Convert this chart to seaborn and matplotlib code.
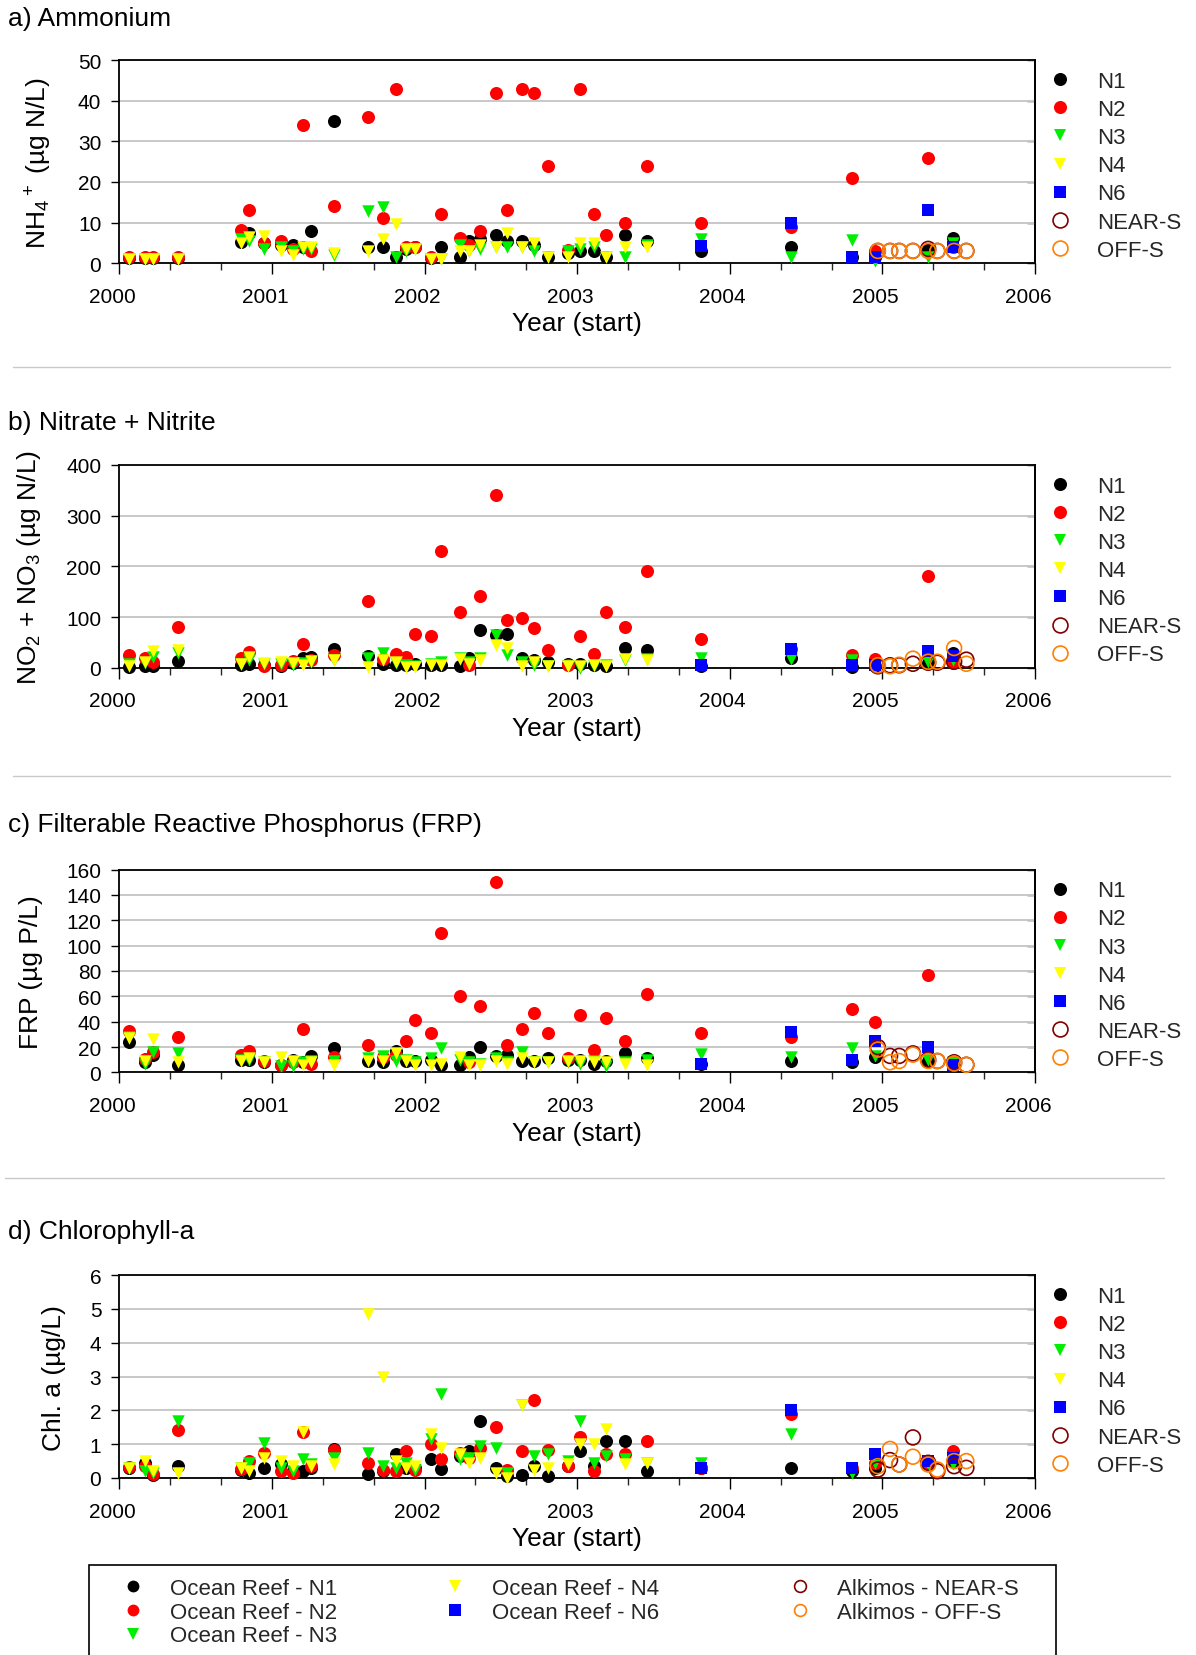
import numpy as np
import matplotlib
matplotlib.use("Agg")
import matplotlib.pyplot as plt
import matplotlib.transforms as mtransforms
from matplotlib.lines import Line2D
from matplotlib.patches import Rectangle
import seaborn as sns

sns.set_theme(style="white")
plt.rcParams["font.family"] = ["Liberation Sans", "DejaVu Sans"]
plt.rcParams["mathtext.default"] = "regular"

nan = np.nan

# ---------------------------------------------------------------- data
# Ocean Reef sampling dates (decimal year) for sites N1-N4
or_dates = [2000.065, 2000.165, 2000.22, 2000.385, 2000.795, 2000.85, 2000.95,
            2001.06, 2001.135, 2001.2, 2001.255, 2001.405, 2001.63, 2001.73,
            2001.81, 2001.88, 2001.94, 2002.04, 2002.11, 2002.23, 2002.29,
            2002.365, 2002.465, 2002.54, 2002.64, 2002.72, 2002.81, 2002.94,
            2003.02, 2003.11, 2003.19, 2003.31, 2003.46, 2003.81, 2004.40,
            2004.80, 2004.95, 2005.30, 2005.46]
# Site N6 sampling dates
n6_dates = [2003.81, 2004.40, 2004.80, 2004.95, 2005.30, 2005.46]
# Alkimos sampling dates
alk_dates = [2004.97, 2005.05, 2005.11, 2005.20, 2005.30, 2005.36, 2005.47, 2005.55]

# a) Ammonium (ug N/L)
nh4_n1 = [1.2, 1.2, 1.2, 1.2, 5.2, 7.4, 5, 4.5, 4.5, 4, 8, 35, 4, 4, 1.5, 3.5, 4, 1.2, 4,
          1.5, 5.4, 6, 7, 5.5, 5.5, 4.5, 1.5, 2.5, 3, 3, 1.5, 7, 5.5, 3, 4, 1.5, 1.5, 3.5, 6.2]
nh4_n2 = [1.5, 1.5, 1.5, 1.5, 8.1, 13, 5, 5.5, 3.5, 34, 3, 14, 36, 11, 43, 4, 4, 1.5, 12,
          6.3, 4.5, 8, 42, 13, 43, 42, 24, 3.2, 43, 12, 7, 10, 24, 10, 9, 21, 3, 26, 4]
nh4_n3 = [1, 1, 1, 1, 6, 5.5, 3.5, 4, 3, 3.5, 3.5, 2, 12.8, 13.8, 1.5, 3, 3.5, 1, 1, 4.5,
          3, 3.5, 4, 4, 4, 3, 1.5, 3, 3.5, 4, 1.5, 1.5, 4.5, 6, 1.5, 5.8, 0.5, 1.5, 5]
nh4_n4 = [1, 1, 1, 1, 5, 6.5, 6.8, 3, 2, 4, 4, 2.5, 3, 6, 9.7, 3.5, 3.5, 1, 1, 3, 3, 4.5,
          4, 7.5, 4, 5, 1.5, 1.5, 5, 5, 1.5, 4, 4, nan, nan, nan, nan, nan, nan]
nh4_n6 = [4.3, 10, 1.5, 1.5, 13, 4]
nh4_near = [3, 3, 3, 3, 3.5, 3, 3, 3]
nh4_off = [3, 3, 3, 3, 3, 3, 3, 3]

# b) Nitrate + Nitrite (ug N/L)
nox_n1 = [2, 3, 3, 14, 5, 8, 5, 3, 10, 20, 22, 37, 23, 8, 5, 5, 8, 5, 5, 3, 20, 74, 65,
          67, 20, 15, 12, 7, 7, 5, 3, 40, 36, 3, 20, 2, 3, 10, 30]
nox_n2 = [25, 20, 12, 80, 20, 32, 3, 5, 13, 46, 15, 25, 131, 18, 27, 22, 66, 63, 230,
          111, 5, 141, 340, 95, 98, 79, 35, 5, 63, 28, 111, 80, 190, 57, 38, 25, 17, 181, 10]
nox_n3 = [8, 10, 22, 30, 8, 15, 8, 8, 5, 10, 12, 15, 20, 30, 10, 5, 3, 8, 12, 20, 12, 20,
          65, 25, 12, 5, 3, 3, 0, 3, 5, 15, 18, 20, 18, 15, 1, 12, 15]
nox_n4 = [3, 12, 33, 35, 8, 22, 10, 12, 10, 5, 13, 15, 2, 15, 12, 2, 2, 5, 5, 18, 8, 15,
          45, 40, 3, 12, 3, 3, 3, 5, 3, 18, 15, nan, nan, nan, nan, nan, nan]
nox_n6 = [5, 38, 5, 5, 33, 24]
nox_near = [3, 5, 5, 8, 10, 10, 12, 16]
nox_off = [5, 3, 6, 18, 12, 12, 39, 8]

# c) Filterable Reactive Phosphorus (ug P/L)
frp_n1 = [24, 8, 14, 6, 10, 10, 8, 6, 10, 8, 13, 19, 9, 8, 17, 9, 9, 10, 6, 6, 12, 20,
          13, 14, 9, 9, 11, 10, 10, 7, 9, 15, 11, 7, 9, 8, 12, 9, 8]
frp_n2 = [32.6, 10.5, 15.8, 28, 14, 17, 9, 6, 8, 34, 7, 12, 22, 12, 14, 25, 41, 31, 110,
          60, 8, 52, 150, 22, 34, 47, 31, 11, 45, 18, 43, 25, 62, 31, 28, 50, 40, 77, 8]
frp_n3 = [28, 7, 16, 15, 10, 10, 8, 5, 5, 8, 9, 9, 11, 13, 9, 10, 8, 11, 19, 10, 8, 7,
          11, 8, 16, 8, 8, 8, 7, 9, 5, 8, 10, 14.5, 12, 19, 13, 10, 8]
frp_n4 = [27, 9, 26, 8, 9, 11, 8, 12, 9, 6, 8, 6, 9, 9, 15, 9, 6, 6, 7, 12, 6, 6, 9, 7,
          11, 8, 8, 9, 9, 8, 8, 7, 6, nan, nan, nan, nan, nan, nan]
frp_n6 = [7, 32, 10, 25, 20, 6]
frp_near = [20, 13, 13, 15, 10, 9, 8, 6]
frp_off = [18, 8, 9, 14, 9, 9, 7, 6]

# d) Chlorophyll-a (ug/L)
chl_n1 = [0.3, 0.45, 0.1, 0.35, 0.25, 0.15, 0.3, 0.4, 0.2, 0.2, 0.3, 0.85, 0.12, 0.2,
          0.7, 0.3, 0.3, 0.55, 0.28, 0.65, 0.8, 1.7, 0.3, 0.05, 0.1, 0.35, 0.05, 0.35,
          0.8, 0.35, 1.1, 1.1, 0.2, 0.3, 0.3, 0.2, 0.3, 0.4, 0.5]
chl_n2 = [0.32, 0.35, 0.12, 1.42, 0.28, 0.5, 0.75, 0.2, 0.15, 1.35, 0.35, 0.82, 0.45,
          0.25, 0.22, 0.8, 0.25, 1.02, 0.55, 0.75, 0.6, 0.9, 1.5, 0.25, 0.8, 2.32, 0.82,
          0.35, 1.22, 0.2, 0.7, 0.7, 1.1, 0.3, 1.9, 0.3, 0.45, 0.45, 0.8]
chl_n3 = [0.3, 0.2, 0.15, 1.7, 0.3, 0.45, 1.05, 0.3, 0.2, 0.55, 0.4, 0.6, 0.75, 0.35,
          0.3, 0.45, 0.25, 1.15, 2.5, 0.55, 0.6, 0.95, 0.9, 0.15, 2.15, 0.65, 0.7, 0.5,
          1.7, 0.45, 0.65, 0.55, 0.45, 0.45, 1.3, 0.15, 0.45, 0.4, 0.4]
chl_n4 = [0.3, 0.5, 0.2, 0.15, 0.3, 0.2, 0.6, 0.5, 0.35, 1.35, 0.35, 0.4, 4.85, 3.0,
          0.5, 0.3, 0.35, 1.3, 0.9, 0.7, 0.45, 0.6, 0.15, 0.0, 2.15, 0.25, 0.3, 0.4,
          1.0, 1.0, 1.45, 0.4, 0.45, nan, nan, nan, nan, nan, nan]
chl_n6 = [0.3, 2.0, 0.3, 0.7, 0.5, 0.6]
chl_near = [0.25, 0.53, 0.4, 1.2, 0.45, 0.2, 0.35, 0.3]
chl_off = [0.35, 0.86, 0.4, 0.63, 0.4, 0.25, 0.5, 0.5]

site_labels = ["N1", "N2", "N3", "N4", "N6", "NEAR-S", "OFF-S"]
long_labels = ["Ocean Reef - N1", "Ocean Reef - N2", "Ocean Reef - N3",
               "Ocean Reef - N4", "Ocean Reef - N6",
               "Alkimos - NEAR-S", "Alkimos - OFF-S"]
years = [2000, 2001, 2002, 2003, 2004, 2005, 2006]

# ---------------------------------------------------------------- styles
STYLE = {
    "N1": dict(marker="o", color="#000000", s=88, filled=True),
    "N2": dict(marker="o", color="#ff0000", s=88, filled=True),
    "N3": dict(marker="v", color="#00ee00", s=80, filled=True),
    "N4": dict(marker="v", color="#ffff00", s=80, filled=True),
    "N6": dict(marker="s", color="#0000ff", s=70, filled=True),
    "NEAR-S": dict(marker="o", color="#800000", s=115, filled=False),
    "OFF-S": dict(marker="o", color="#ff8000", s=115, filled=False),
}

W, H = 1196, 1656
fig = plt.figure(figsize=(W / 100, H / 100), dpi=100)

AX_L, AX_W, AX_H = 119.4, 915.6, 202.8
FS_TICK, FS_LAB, FS_LEG = 15, 19, 16


def draw_panel(bottom_px, series, ylim, ystep, ylabel):
    ax = fig.add_axes([AX_L / W, 1 - bottom_px / H, AX_W / W, AX_H / H])
    for i, (lab, xs, ys) in enumerate(series):
        st = STYLE[lab]
        sns.scatterplot(x=np.asarray(xs, float), y=np.asarray(ys, float), ax=ax,
                        marker=st["marker"], s=st["s"], color=st["color"],
                        linewidth=0, legend=False, zorder=3 + i, clip_on=False)
        coll = ax.collections[-1]
        if st["filled"]:
            coll.set_facecolor(st["color"])
            coll.set_edgecolor(st["color"])
            coll.set_linewidth(0)
        else:
            coll.set_facecolor("none")
            coll.set_edgecolor(st["color"])
            coll.set_linewidth(1.2)
        coll.set_clip_on(False)

    ax.set_xlim(2000, 2006)
    ax.set_ylim(*ylim)
    ax.set_xticks(years)
    ax.set_xticklabels([str(y) for y in years], fontsize=FS_TICK)
    ax.set_xticks(np.arange(2000, 2006.001, 1 / 3), minor=True)
    yt = np.arange(ylim[0], ylim[1] + ystep / 2, ystep)
    ax.set_yticks(yt)
    ax.set_yticklabels([f"{int(v)}" for v in yt], fontsize=FS_TICK)
    ax.tick_params(axis="x", which="major", bottom=True, top=False, direction="out",
                   length=8, width=1, pad=9, colors="black")
    ax.tick_params(axis="x", which="minor", bottom=True, top=False, direction="out",
                   length=5, width=1)
    ax.tick_params(axis="y", which="major", left=True, right=False, direction="out",
                   length=6, width=1, pad=7, colors="black")
    ax.yaxis.grid(True, color="#c8c8c8", linewidth=1.4)
    ax.xaxis.grid(False)
    ax.set_axisbelow(True)
    for sp in ax.spines.values():
        sp.set_color("black")
        sp.set_linewidth(1.3)
        sp.set_visible(True)
    # inward ticks on the right-hand frame
    sec = ax.secondary_yaxis("right")
    sec.set_yticks(yt)
    sec.tick_params(direction="in", length=6, width=1, labelright=False, colors="black")
    sec.spines["right"].set_linewidth(1.3)
    sec.spines["right"].set_color("black")

    # shift year labels slightly to the left of their ticks
    off = mtransforms.ScaledTranslation(-7 / 100, 0, fig.dpi_scale_trans)
    for t in ax.get_xticklabels():
        t.set_transform(t.get_transform() + off)

    ax.set_xlabel("Year (start)", fontsize=FS_LAB, labelpad=4, color="black")
    ax.set_ylabel(ylabel, fontsize=FS_LAB, labelpad=17, color="black")

    handles = []
    for lab in site_labels:
        st = STYLE[lab]
        handles.append(Line2D([], [], linestyle="none", marker=st["marker"],
                              markersize=np.sqrt(st["s"]),
                              markerfacecolor=st["color"] if st["filled"] else "none",
                              markeredgecolor=st["color"],
                              markeredgewidth=0 if st["filled"] else 1.2))
    ax.legend(handles, site_labels, loc="upper left", bbox_to_anchor=(1.0153, 0.947),
              frameon=False, fontsize=FS_LEG, handlelength=1.0, handletextpad=1.15,
              labelspacing=0.32, borderpad=0, borderaxespad=0)
    return ax


def panel_series(n1, n2, n3, n4, n6, near, off):
    return [("N1", or_dates, n1), ("N2", or_dates, n2), ("N3", or_dates, n3),
            ("N4", or_dates, n4), ("N6", n6_dates, n6),
            ("NEAR-S", alk_dates, near), ("OFF-S", alk_dates, off)]


draw_panel(264.1, panel_series(nh4_n1, nh4_n2, nh4_n3, nh4_n4, nh4_n6, nh4_near, nh4_off),
           (0, 50), 10, r"NH$_4$$^+$ (µg N/L)")
draw_panel(668.8, panel_series(nox_n1, nox_n2, nox_n3, nox_n4, nox_n6, nox_near, nox_off),
           (0, 400), 100, r"NO$_2$ + NO$_3$ (µg N/L)")
draw_panel(1073.4, panel_series(frp_n1, frp_n2, frp_n3, frp_n4, frp_n6, frp_near, frp_off),
           (0, 160), 20, "FRP (µg P/L)")
draw_panel(1479.0, panel_series(chl_n1, chl_n2, chl_n3, chl_n4, chl_n6, chl_near, chl_off),
           (0, 6), 1, "Chl. a (µg/L)")

# panel titles
titles = [("a) Ammonium", 19), ("b) Nitrate + Nitrite", 422.6),
          ("c) Filterable Reactive Phosphorus (FRP)", 825), ("d) Chlorophyll-a", 1232)]
for txt, ypx in titles:
    fig.text(8.5 / W, 1 - ypx / H, txt, ha="left", va="center", fontsize=FS_LAB,
             color="black")

# thin separators between panels
for ypx, x0, x1 in [(367.7, 12.7, 1170), (776.5, 12.7, 1170), (1179, 5.3, 1164)]:
    fig.add_artist(Line2D([x0 / W, x1 / W], [1 - ypx / H, 1 - ypx / H],
                          transform=fig.transFigure, color="#c8c8c8", linewidth=1))

# combined legend at the bottom
fig.add_artist(Rectangle((88.7 / W, -0.05), (1055.5 - 88.7) / W, 0.05 + 1 - 1566 / H,
                         transform=fig.transFigure, facecolor="white",
                         edgecolor="black", linewidth=1.2, zorder=0))
groups = [(0, 3, 122), (3, 5, 444), (5, 7, 789)]
for a, b, xpx in groups:
    hs = []
    for lab in site_labels[a:b]:
        st = STYLE[lab]
        hs.append(Line2D([], [], linestyle="none", marker=st["marker"], markersize=8.5,
                         markerfacecolor=st["color"] if st["filled"] else "none",
                         markeredgecolor=st["color"],
                         markeredgewidth=0 if st["filled"] else 1.2))
    fig.legend(hs, long_labels[a:b], loc="upper left",
               bbox_to_anchor=(xpx / W, 1 - 1579 / H), frameon=False, fontsize=FS_LEG,
               handlelength=1.0, handletextpad=1.15, labelspacing=0.12,
               borderpad=0, borderaxespad=0)

fig.savefig("out.png", dpi=100)
